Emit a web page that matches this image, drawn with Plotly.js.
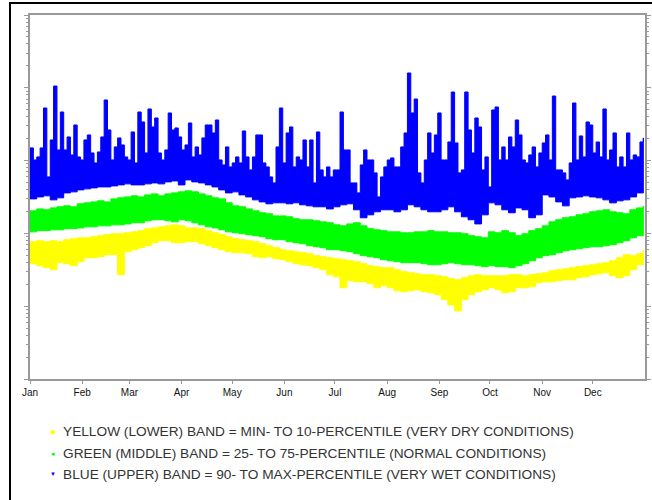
<!DOCTYPE html>
<html><head><meta charset="utf-8">
<script src="https://cdn.plot.ly/plotly-3.0.1.min.js"></script>
<style>
html,body{margin:0;padding:0;background:#fff;}
#wrap{position:relative;width:652px;height:500px;}
#chart{width:652px;height:500px;}
#frame{position:absolute;left:9px;top:2px;width:641px;height:498px;border-left:2px solid #000;border-top:2px solid #000;pointer-events:none;}
</style>
</head><body><div id="wrap"><div id="chart"></div><div id="frame"></div></div>
<script>
// Month tick labels
var monthLabels = ['Jan','Feb','Mar','Apr','May','Jun','Jul','Aug','Sep','Oct','Nov','Dec'];
var monthStarts = ['2021-01-01','2021-02-01','2021-03-01','2021-04-01','2021-05-01','2021-06-01','2021-07-01','2021-08-01','2021-09-01','2021-10-01','2021-11-01','2021-12-01'];

// Blue band (90th percentile to max): upper edge every 2 days, lower edge every 4 days
var blueUpper = [1493,1021,1123,1493,5282,597,1922,10580,1401,4655,
1401,2113,1196,3087,1123,1021,1922,2251,1274,929,
1315,2113,6800,2636,1021,1541,2047,1641,1123,1021,
2475,929,4655,3394,1274,5117,2898,3851,1274,1021,
1401,4510,2636,2808,2113,1401,1641,3288,1123,1541,
1196,2047,3087,3087,2398,3615,1021,872,1541,819,
929,1123,929,2554,1123,745,1123,2251,2251,929,
819,597,494,1541,5282,929,2398,2898,819,1123,
1021,1922,819,1922,494,2475,745,597,819,597,
745,745,4655,1401,1401,494,494,360,872,1401,
1021,1021,678,317,597,819,1021,1088,819,819,
1541,2398,15980,4510,7018,678,494,1021,2398,1274,
2251,4510,1021,1021,1804,8755,1748,678,745,8755,
2636,1274,3851,2898,745,1123,435,4958,5451,1021,
1541,1021,2113,1541,3615,2251,1021,929,1196,1541,
819,1274,1748,2251,1021,7716,745,745,678,543,
929,6185,1021,2181,1123,3394,3087,1274,1804,1123,
5117,1021,1401,2398,819,1123,819,2398,1021,1196,
1123,1804,2047];
var blueLower = [338,298,317,328,289,308,360,372,396,409,
422,435,435,449,464,479,464,464,479,494,
479,510,526,464,543,510,494,464,435,396,
360,372,338,317,289,271,255,263,263,255,
263,247,239,232,232,217,232,247,255,211,
164,180,198,211,211,198,211,247,232,211,
198,198,211,232,198,169,154,135,180,263,
247,211,192,224,211,164,180,338,317,271,
239,308,317,328,317,308,289,263,280,289,
317,360];

// Green band (25th to 75th percentile), every 4 days
var greenUpper = [204,217,211,224,232,239,232,255,263,271,
280,271,298,308,317,328,317,338,349,328,
349,360,372,384,372,349,328,308,298,263,
239,232,217,204,192,186,174,174,169,159,
154,154,149,144,140,131,127,135,140,127,
116,112,109,105,105,102,102,105,105,109,
105,105,102,102,99,93,90,87,105,102,
109,102,93,99,109,116,127,144,154,164,
169,180,186,198,204,211,198,192,186,211,
224,239];
var greenLower = [105,105,109,109,112,112,116,116,119,123,
123,127,127,131,131,135,140,140,149,154,
154,149,144,154,149,140,131,123,119,112,
105,102,99,96,93,90,84.5,81.9,81.9,76.9,
74.5,72.2,67.7,65.6,63.6,59.7,59.7,57.8,56.0,52.6,
49.4,47.8,46.3,43.5,42.1,40.8,39.6,39.6,39.6,38.3,
37.1,37.1,38.3,39.6,38.3,37.1,37.1,36.0,34.9,36.0,
34.9,34.9,33.8,36.0,38.3,42.1,46.3,49.4,51.0,54.3,
57.8,59.7,61.6,63.6,65.6,65.6,67.7,69.9,74.5,79.3,
87,93];

// Yellow band (min to 10th percentile), every 4 days
var yellowUpper = [76.9,79.3,76.9,79.3,76.9,81.9,84.5,87,87,90,
93,96,99,99,102,105,109,116,119,123,
127,131,127,119,119,116,109,102,96,90,
84.5,81.9,79.3,76.9,72.2,67.7,63.6,59.7,57.8,56.0,
54.3,52.6,49.4,47.8,46.3,44.9,43.5,42.1,40.8,38.3,
36.0,34.9,33.8,33.8,31.7,29.8,28.8,27.9,27.1,27.1,
26.2,25.4,23.9,23.1,24.6,26.2,27.1,26.2,26.2,26.2,
26.2,27.1,27.1,26.2,27.1,27.9,28.8,30.7,31.7,32.7,
33.8,34.9,36.0,37.1,38.3,39.6,42.1,46.3,51.0,49.4,
52.6,59.7];
var yellowLower = [39.6,38.3,36.0,33.8,31.7,39.6,38.3,36.0,40.8,46.3,
46.3,47.8,51.0,51.0,27.1,56.0,59.7,63.6,67.7,74.5,
79.3,79.3,74.5,74.5,76.9,76.9,72.2,67.7,63.6,59.7,
56.0,54.3,54.3,52.6,47.8,46.3,47.8,44.9,43.5,40.8,
38.3,37.1,36.0,33.8,31.7,27.1,25.4,17.9,22.4,21.7,
21.7,20.4,17.9,19.1,17.9,16.3,15.8,16.3,16.8,15.8,
15.3,14.4,12.3,10.4,8.6,12.3,14.4,15.8,16.8,17.9,
16.8,15.3,15.8,17.9,17.9,18.5,21.0,21.7,21.7,22.4,
23.1,23.1,24.6,25.4,27.1,27.9,28.8,26.2,24.6,26.2,
31.7,37.1];

var legendTexts = [
  'YELLOW (LOWER) BAND = MIN- TO 10-PERCENTILE (VERY DRY CONDITIONS)',
  'GREEN (MIDDLE) BAND = 25- TO 75-PERCENTILE (NORMAL CONDITIONS)',
  'BLUE (UPPER) BAND = 90- TO MAX-PERCENTILE (VERY WET CONDITIONS)'
];

function dates(step, n){
  var out = [];
  for (var i = 0; i < n; i++){
    var t = new Date(Date.UTC(2021, 0, 1 + i*step));
    out.push(t.toISOString().slice(0,10));
  }
  return out;
}
function band(upper, stepU, lower, stepL, color){
  var xu = dates(stepU, upper.length), xl = dates(stepL, lower.length);
  return {
    type:'scatter', mode:'lines', fill:'toself',
    x: xu.concat(xl.slice().reverse()),
    y: upper.concat(lower.slice().reverse()),
    line:{color:color, width:1, shape:'hv'}, fillcolor:color, hoverinfo:'skip'
  };
}

var traces = [
  band(yellowUpper, 4, yellowLower, 4, '#ffff00'),
  band(greenUpper, 4, greenLower, 4, '#00ff00'),
  band(blueUpper, 2, blueLower, 4, '#0000ff')
];

var ann = [];
var symbols = ['\u25CF','\u25CF','\u25BC'];
var symColors = ['#ffff00','#00ff00','#0000ff'];
var symSizes = [10,7,6];
var rowY = [-0.1429, -0.2033, -0.2610];
for (var i = 0; i < 3; i++){
  ann.push({xref:'paper', yref:'paper', x:0.0374, y:rowY[i], xanchor:'center', yanchor:'middle',
            text:symbols[i], showarrow:false, font:{size:symSizes[i], color:symColors[i]}});
  ann.push({xref:'paper', yref:'paper', x:0.051, y:rowY[i], xanchor:'left', yanchor:'middle',
            text:legendTexts[i], showarrow:false,
            font:{family:'"Liberation Sans", Arial, sans-serif', size:13.7, color:'#333'}});
}

var layout = {
  width:652, height:500,
  margin:{l:30, r:7, t:15, b:121, pad:0},
  paper_bgcolor:'#ffffff', plot_bgcolor:'#ffffff',
  showlegend:false,
  font:{family:'"Liberation Sans", Arial, sans-serif', color:'#222'},
  xaxis:{type:'date', range:['2021-01-01','2022-01-01'], tickmode:'array',
    tickvals:monthStarts, ticktext:monthLabels, ticks:'outside', ticklen:3,
    tickcolor:'#999', tickwidth:1, showline:true, linecolor:'#999', linewidth:2,
    mirror:true, showgrid:false, zeroline:false, tickfont:{size:10, color:'#111'}},
  yaxis:{type:'log', range:[0,5], dtick:1, ticks:'outside', ticklen:4, tickcolor:'#999',
    showticklabels:false, showline:true, linecolor:'#999', linewidth:2, mirror:'ticks',
    showgrid:false, zeroline:false,
    minor:{ticks:'outside', ticklen:2, tickcolor:'#999', dtick:'D1', showgrid:false}},
  annotations:ann
};

Plotly.newPlot('chart', traces, layout, {staticPlot:true, displayModeBar:false});
</script>
</body></html>
